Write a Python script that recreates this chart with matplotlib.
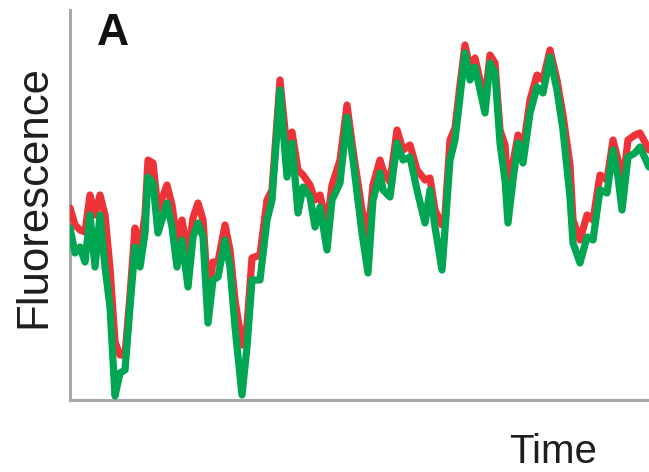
import numpy as np
import matplotlib
matplotlib.use("Agg")
import matplotlib.pyplot as plt

plt.rcParams['font.family'] = ['Liberation Sans', 'DejaVu Sans']

# sample times (arbitrary units)
time = [0, 5, 10, 15, 20, 25, 30, 35, 40, 45, 50, 55, 60, 65, 70, 75, 78, 83,
        88, 97, 102, 107, 112, 118, 123, 128, 133, 138, 143, 148, 155, 160,
        165, 172, 177, 182, 190, 197, 202, 210, 217, 222, 228, 233, 240, 245,
        250, 257, 262, 270, 277, 283, 292, 298, 303, 310, 313, 320, 327, 333,
        340, 347, 355, 360, 365, 372, 375, 380, 385, 390, 395, 400, 405, 410,
        415, 420, 425, 430, 435, 438, 443, 448, 453, 460, 467, 473, 480, 487,
        493, 500, 503, 510, 517, 523, 530, 537, 543, 548, 552, 558, 565, 570,
        579]

# green channel trace
green = [172, 147, 153, 138, 185, 133, 185, 133, 93, 4, 27, 30, 93, 153, 133,
         167, 223, 217, 167, 197, 173, 133, 160, 113, 163, 177, 163, 77, 120,
         123, 160, 133, 73, 5, 53, 120, 120, 180, 200, 310, 223, 257, 187, 213,
         203, 173, 193, 150, 200, 217, 283, 240, 167, 127, 200, 227, 210, 203,
         257, 240, 243, 210, 177, 210, 173, 130, 170, 240, 260, 303, 347, 320,
         333, 310, 287, 337, 327, 257, 220, 177, 220, 257, 237, 287, 313, 307,
         343, 310, 270, 203, 157, 137, 163, 160, 210, 207, 250, 223, 190, 243,
         247, 253, 233]

# red channel trace
red = [192, 175, 170, 168, 205, 185, 205, 185, 132, 58, 45, 45, 105, 172,
       150, 185, 240, 237, 190, 215, 195, 160, 180, 145, 182, 197, 180, 105,
       138, 138, 175, 150, 100, 55, 75, 142, 145, 200, 210, 320, 250, 268, 230,
       225, 215, 200, 205, 175, 215, 240, 295, 250, 190, 165, 215, 240, 230,
       218, 270, 250, 255, 230, 220, 222, 190, 175, 185, 260, 272, 315, 355,
       332, 342, 320, 300, 345, 337, 270, 255, 210, 237, 265, 250, 300, 325,
       320, 350, 320, 285, 235, 180, 160, 185, 180, 225, 220, 260, 240, 210,
       260, 265, 267, 250]

fig = plt.figure(figsize=(6.49, 4.72), dpi=100)
ax = fig.add_axes([70 / 649, 72 / 472, 579 / 649, 390 / 472])

ax.plot(time, red, color='#EE3338', linewidth=5.2,
        solid_joinstyle='round', solid_capstyle='round')
ax.plot(time, green, color='#00A651', linewidth=5.2,
        solid_joinstyle='round', solid_capstyle='round')

ax.set_xlim(0, 579)
ax.set_ylim(0, 390)
ax.set_xticks([])
ax.set_yticks([])
for side in ['top', 'right']:
    ax.spines[side].set_visible(False)
for side in ['left', 'bottom']:
    ax.spines[side].set_color('#A8A8A8')
    ax.spines[side].set_linewidth(2.2)
    ax.spines[side].set_zorder(0)

fig.text(34 / 649, 1 - 197 / 472, 'Fluorescence', rotation=90,
         ha='center', va='center', fontsize=31.5, color='#1e1e1e')
fig.text(553 / 649, 1 / 472, 'Time', ha='center', va='bottom',
         fontsize=29, color='#1e1e1e')
fig.text(97 / 649, 1 - 45 / 472, 'A', ha='left', va='baseline',
         fontsize=32, fontweight='bold', color='#111111')

fig.savefig('out.png', dpi=100)
